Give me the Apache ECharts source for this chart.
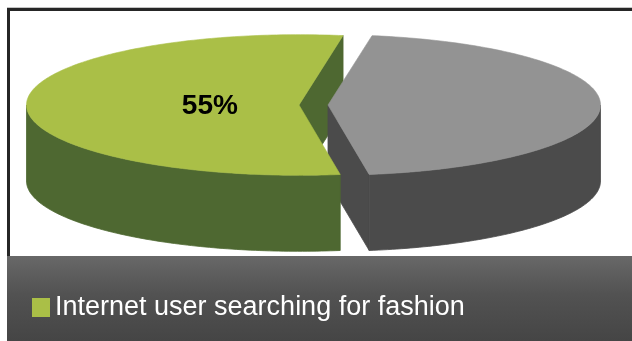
<!DOCTYPE html>
<html>
<head>
<meta charset="utf-8">
<script src="https://cdn.jsdelivr.net/npm/echarts@6/dist/echarts.min.js"></script>
<style>
html,body{margin:0;padding:0;background:#fff;}
#chart{width:632px;height:341px;}
</style>
</head>
<body>
<div id="chart"></div>
<script>
// ---- data ----
const categories = ['Internet user searching for fashion', 'Other'];
const values = [55, 45];
const labels = ['55%', ''];

// ---- styles ----
const topColors = ['#aabf47', '#939393'];
const sideColors = ['#4e6831', '#4b4b4b'];

// ---- 3D pie geometry (layout) ----
const CX = 313.5, CY = 105, RX = 272.5, RY = 70.3, DEPTH = 76;
const EXPLODE = 14.5;
const START = 81.3;      // degrees, start of first slice (front edge)
const LABEL_R = 0.327;   // fraction of radius for label

const total = values.reduce((a, b) => a + b, 0);
const D2R = Math.PI / 180;

function renderItem(params, api) {
  const i = params.dataIndex;
  let cum = 0;
  for (let k = 0; k < i; k++) cum += values[k];
  const a0 = START + cum / total * 360;
  const a1 = a0 + api.value(0) / total * 360;
  const mid = (a0 + a1) / 2 * D2R;
  const cx = CX + EXPLODE * Math.cos(mid);
  const cy = CY + EXPLODE * (RY / RX) * Math.sin(mid);
  const pt = (deg, dz) => [cx + RX * Math.cos(deg * D2R), cy + RY * Math.sin(deg * D2R) + dz];
  const arc = (s, e, dz) => {
    const n = Math.max(2, Math.ceil((e - s) / 1));
    const pts = [];
    for (let j = 0; j <= n; j++) pts.push(pt(s + (e - s) * j / n, dz));
    return pts;
  };
  const children = [];
  const top = topColors[i], side = sideColors[i];
  // cut faces
  const face = (deg) => ({
    type: 'polygon', z2: 1,
    shape: { points: [[cx, cy], pt(deg, 0), pt(deg, DEPTH), [cx, cy + DEPTH]] },
    style: { fill: side, stroke: side, lineWidth: 0.8 }
  });
  if (Math.cos(a0 * D2R) < 0) children.push(face(a0));
  if (Math.cos(a1 * D2R) > 0) children.push(face(a1));
  // outer side walls (front visible part)
  for (let k = -1; k <= 2; k++) {
    const lo = Math.max(a0, k * 360), hi = Math.min(a1, k * 360 + 180);
    if (hi > lo) {
      const pts = arc(lo, hi, 0).concat(arc(lo, hi, DEPTH).reverse());
      children.push({ type: 'polygon', z2: 2, shape: { points: pts },
        style: { fill: side, stroke: side, lineWidth: 0.8 } });
    }
  }
  // top face
  children.push({ type: 'polygon', z2: 3,
    shape: { points: [[cx, cy]].concat(arc(a0, a1, 0)) },
    style: { fill: top, stroke: top, lineWidth: 0.6 } });
  // label
  if (labels[i]) {
    children.push({ type: 'text', z2: 4,
      x: cx + LABEL_R * RX * Math.cos(mid),
      y: cy + LABEL_R * RY * Math.sin(mid) + 1,
      style: { text: labels[i], fill: '#000', fontSize: 28, fontWeight: 'bold',
        fontFamily: 'Liberation Sans, Arial, sans-serif', align: 'center', verticalAlign: 'middle' } });
  }
  return { type: 'group', children };
}

const chart = echarts.init(document.getElementById('chart'), null, { renderer: 'canvas' });
chart.setOption({
  animation: false,
  backgroundColor: '#ffffff',
  graphic: [
    { type: 'rect', z: 0, shape: { x: 7, y: 256, width: 625, height: 85 },
      style: { fill: new echarts.graphic.LinearGradient(0, 0, 0, 1, [
        { offset: 0, color: '#686868' }, { offset: 0.45, color: '#525252' }, { offset: 1, color: '#454545' }]) } },
    { type: 'rect', z: 0, shape: { x: 7, y: 7, width: 625, height: 1 }, style: { fill: '#c4c4c4' } },
    { type: 'rect', z: 0, shape: { x: 7, y: 8, width: 625, height: 3 }, style: { fill: '#262626' } },
    { type: 'rect', z: 0, shape: { x: 7, y: 8, width: 3, height: 248 }, style: { fill: '#262626' } }
  ],
  legend: {
    data: [categories[0]],
    left: 27, top: 289,
    icon: 'rect', itemWidth: 18, itemHeight: 19,
    selectedMode: false,
    textStyle: { color: '#ffffff', fontSize: 27, fontFamily: 'Liberation Sans, Arial, sans-serif' }
  },
  series: [{
    type: 'custom',
    name: categories[0],
    coordinateSystem: 'none',
    itemStyle: { color: topColors[0] },
    renderItem: renderItem,
    data: values.map((v, i) => ({ name: categories[i], value: v }))
  }]
});
</script>
</body>
</html>
